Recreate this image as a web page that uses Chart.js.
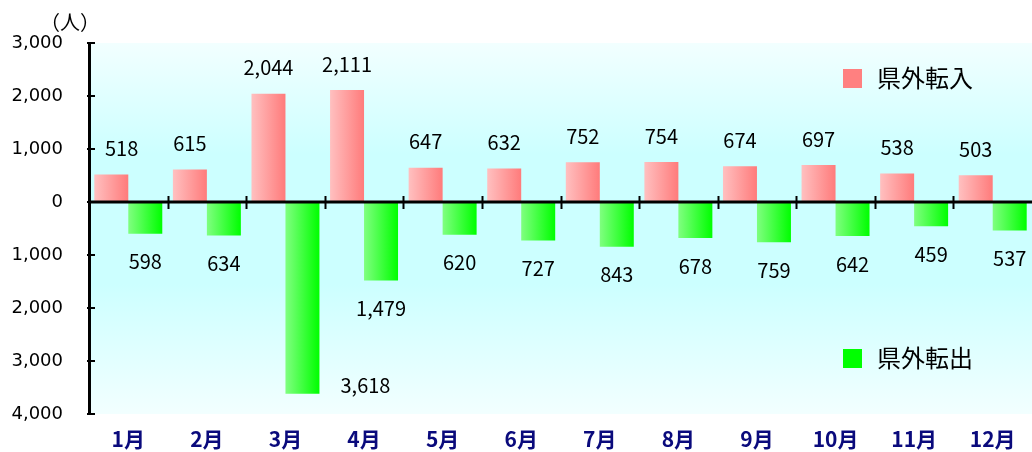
<!DOCTYPE html>
<html>
<head>
<meta charset="utf-8">
<script src="https://cdn.jsdelivr.net/npm/chart.js@4"></script>
<style>
  html, body { margin: 0; padding: 0; background: #ffffff; }
</style>
</head>
<body>
<canvas id="kengai_canvas" width="1032" height="452"></canvas>
<script>
// 県外転入・転出（月別）
var months = ['1月', '2月', '3月', '4月', '5月', '6月', '7月', '8月', '9月', '10月', '11月', '12月'];
var tennyu = [518, 615, 2044, 2111, 647, 632, 752, 754, 674, 697, 538, 503];
var tenshutsu = [598, 634, 3618, 1479, 620, 727, 843, 678, 759, 642, 459, 537];
var seriesNames = ['県外転入', '県外転出'];
var yMin = -4000, yMax = 3000, yStep = 1000;

var jpFont = '"Noto Sans CJK JP", "Noto Sans", sans-serif';
var barPct = 0.865;

function fmt(v) {
    return Math.abs(v).toLocaleString('en-US');
}

// 横方向グラデーション（左が淡く右が濃い）
function barGrad(c0, c1, side) {
    return function (ctx) {
        var chart = ctx.chart;
        var xs = chart.scales ? chart.scales.x : null;
        if (!chart.chartArea || !xs || ctx.dataIndex === undefined) return c1;
        var cw = xs.width / months.length;
        var bw = cw * barPct / 2;
        var cx = xs.getPixelForValue(ctx.dataIndex);
        var l = side < 0 ? cx - bw : cx;
        var g = chart.ctx.createLinearGradient(l, 0, l + bw, 0);
        g.addColorStop(0, c0);
        g.addColorStop(1, c1);
        return g;
    };
}

var bgPlugin = {
    id: 'bgPlugin',
    beforeDraw: function (chart) {
        var a = chart.chartArea, c = chart.ctx;
        var g = c.createLinearGradient(0, a.top, 0, a.bottom);
        g.addColorStop(0, '#f2ffff');
        g.addColorStop(0.3, '#ccffff');
        g.addColorStop(0.65, '#ccffff');
        g.addColorStop(1, '#f2ffff');
        c.save();
        c.fillStyle = g;
        c.fillRect(a.left, a.top, a.right - a.left, a.bottom - a.top);
        c.restore();
    }
};

var decoPlugin = {
    id: 'decoPlugin',
    afterDatasetsDraw: function (chart) {
        var a = chart.chartArea, c = chart.ctx;
        var xs = chart.scales.x, ys = chart.scales.y;
        var y0 = ys.getPixelForValue(0);
        c.save();
        c.strokeStyle = '#000000';
        // ゼロ線
        c.lineWidth = 3;
        c.beginPath();
        c.moveTo(a.left, y0);
        c.lineTo(a.right, y0);
        c.stroke();
        // 項目の区切り目盛
        c.lineWidth = 2;
        var cw = xs.width / months.length;
        for (var k = 1; k < months.length; k++) {
            var x = Math.round(a.left + k * cw) + 0.5;
            c.beginPath();
            c.moveTo(x, y0 - 6);
            c.lineTo(x, y0 + 7);
            c.stroke();
        }
        // Y軸の内向き目盛
        ys.ticks.forEach(function (t) {
            var y = Math.round(ys.getPixelForValue(t.value));
            c.beginPath();
            c.moveTo(a.left - 2, y);
            c.lineTo(a.left + 6, y);
            c.stroke();
        });

        // データラベル
        c.fillStyle = '#000000';
        c.font = '20px ' + jpFont;
        c.textAlign = 'center';
        c.textBaseline = 'middle';
        chart.data.datasets.forEach(function (ds, di) {
            var meta = chart.getDatasetMeta(di);
            meta.data.forEach(function (el, i) {
                var v = ds.data[i];
                var txt = fmt(v);
                var lx = el.x, ly;
                if (v >= 0) {
                    ly = el.y - 26;
                } else {
                    ly = el.y + 28;
                    if (ly + 10 > a.bottom) {
                        lx = el.x + 63;
                        ly = el.y - 8;
                    }
                }
                var half = c.measureText(txt).width / 2;
                if (lx - half < a.left + 14) lx = a.left + 16 + half;
                c.fillText(txt, lx, ly);
            });
        });

        // 凡例
        var legendCols = ['#ff8080', '#00ff00'];
        var legendY = [78, 358];
        c.textAlign = 'left';
        c.font = '24px ' + jpFont;
        for (var j = 0; j < seriesNames.length; j++) {
            c.fillStyle = legendCols[j];
            c.fillRect(843, legendY[j] - 9, 19, 19);
            c.fillStyle = '#000000';
            c.fillText(seriesNames[j], 877, legendY[j]);
        }

        // 単位
        c.textAlign = 'center';
        c.font = '20px ' + jpFont;
        c.fillText('（人）', 70, 22);
        c.restore();
    }
};

var ctx = document.getElementById('kengai_canvas');
new Chart(ctx, {
    type: 'bar',
    data: {
        labels: months,
        datasets: [{
            label: seriesNames[0],
            data: tennyu,
            backgroundColor: barGrad('#ffc0c0', '#ff7b7b', -1)
        }, {
            label: seriesNames[1],
            data: tenshutsu.map(function (v) { return -v; }),
            backgroundColor: barGrad('#80ff80', '#00ff00', 1)
        }]
    },
    options: {
        responsive: false,
        animation: false,
        devicePixelRatio: 1,
        layout: { padding: { top: 43, right: 0, bottom: 0, left: 0 } },
        datasets: {
            bar: { categoryPercentage: barPct, barPercentage: 1 }
        },
        plugins: {
            legend: { display: false },
            tooltip: { enabled: false }
        },
        scales: {
            x: {
                grid: { display: false, drawTicks: false },
                border: { display: false },
                ticks: {
                    color: '#0a0a7c',
                    padding: 12,
                    maxRotation: 0,
                    font: { family: jpFont, size: 21, weight: 'bold' }
                },
                afterFit: function (s) { s.height = 38; }
            },
            y: {
                min: yMin,
                max: yMax,
                grid: { drawOnChartArea: false, drawTicks: false },
                border: { display: true, color: '#000000', width: 3 },
                ticks: {
                    stepSize: yStep,
                    color: '#000000',
                    padding: 26,
                    font: { family: '"DejaVu Sans", sans-serif', size: 18 },
                    callback: function (v) { return fmt(v); }
                },
                afterFit: function (s) { s.width = 89; }
            }
        }
    },
    plugins: [bgPlugin, decoPlugin]
});
</script>
</body>
</html>
